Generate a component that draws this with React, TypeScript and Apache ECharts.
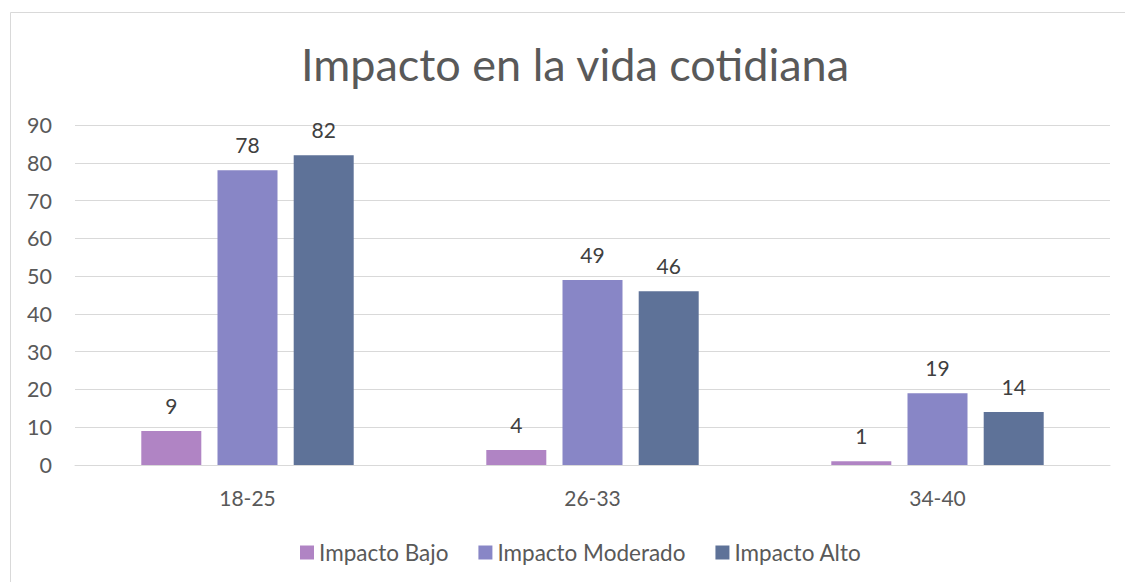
import React, { useEffect, useRef } from "react";
import * as echarts from "echarts";

const categories = ["18-25", "26-33", "34-40"];
const seriesNames = ["Impacto Bajo", "Impacto Moderado", "Impacto Alto"];
const bajo = [9, 4, 1];
const moderado = [78, 49, 19];
const alto = [82, 46, 14];
const colors = ["#B084C4", "#8886C6", "#5E7298"];
const yTicks = { min: 0, max: 90, interval: 10 };

export default function App() {
  const ref = useRef<HTMLDivElement>(null);
  useEffect(() => {
    if (!ref.current) return;
    const chart = echarts.init(ref.current, undefined, { renderer: "svg" });
    const font = "Lato, 'Open Sans', sans-serif";
    const values = [bajo, moderado, alto];
    chart.setOption({
      animation: false,
      backgroundColor: "#ffffff",
      textStyle: { fontFamily: font },
      graphic: [
        {
          type: "rect",
          shape: { x: 10.5, y: 12.5, width: 1200, height: 700 },
          style: { fill: "none", stroke: "#D9D9D9", lineWidth: 1 },
          silent: true,
        },
      ],
      title: {
        text: "Impacto en la vida cotidiana",
        left: 570,
        top: 36,
        textAlign: "center",
        textStyle: { fontFamily: font, fontSize: 45, fontWeight: "normal", color: "#595959" },
      },
      legend: {
        data: seriesNames,
        top: 536,
        left: 295,
        itemWidth: 14,
        itemHeight: 14,
        itemGap: 30,
        icon: "rect",
        textStyle: { fontFamily: font, fontSize: 22.5, color: "#595959" },
      },
      grid: { left: 75, right: 15, top: 125, bottom: 117, containLabel: false },
      xAxis: {
        type: "category",
        data: categories,
        axisLine: { lineStyle: { color: "#D9D9D9" } },
        axisTick: { show: false },
        axisLabel: { fontFamily: font, fontSize: 21, color: "#595959", margin: 22 },
      },
      yAxis: {
        type: "value",
        min: yTicks.min,
        max: yTicks.max,
        interval: yTicks.interval,
        axisLine: { show: false },
        axisTick: { show: false },
        splitLine: { lineStyle: { color: "#D9D9D9", width: 1 } },
        axisLabel: { fontFamily: font, fontSize: 21.5, color: "#595959", margin: 23 },
      },
      series: seriesNames.map((name, i) => ({
        name,
        type: "bar",
        data: values[i],
        barWidth: 60,
        barGap: "27%",
        itemStyle: { color: colors[i] },
        label: {
          show: true,
          position: "top",
          distance: 15,
          fontFamily: font,
          fontSize: 21,
          color: "#404040",
        },
      })),
    });
    return () => chart.dispose();
  }, []);
  return (
    <div
      ref={ref}
      style={{ position: "absolute", left: 0, top: 0, width: 1125, height: 582 }}
    />
  );
}
